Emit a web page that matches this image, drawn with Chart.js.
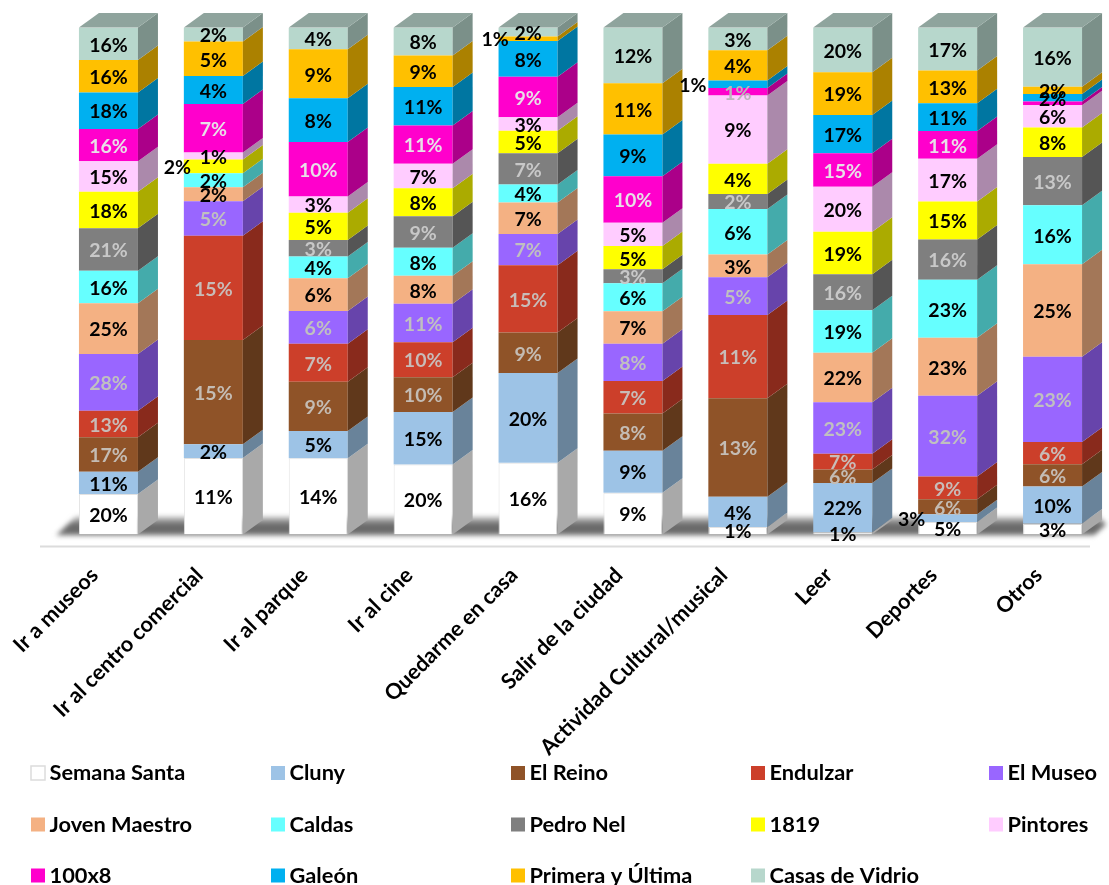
<!DOCTYPE html>
<html>
<head>
<meta charset="utf-8">
<title>Actividades por colegio</title>
<script src="https://cdn.jsdelivr.net/npm/chart.js@4/dist/chart.umd.min.js"></script>
<style>
  html, body { margin: 0; padding: 0; background: #fff; }
  canvas { display: block; }
</style>
</head>
<body>
<canvas id="activitiesChart" width="1109" height="885"></canvas>
<script>
const categories = ["Ir a museos", "Ir al centro comercial", "Ir al parque", "Ir al cine", "Quedarme en casa",
  "Salir de la ciudad", "Actividad Cultural/musical", "Leer", "Deportes", "Otros"];

const seriesNames = ["Semana Santa", "Cluny", "El Reino", "Endulzar", "El Museo", "Joven Maestro", "Caldas",
  "Pedro Nel", "1819", "Pintores", "100x8", "Galeón", "Primera y Última", "Casas de Vidrio"];

const semanaSanta = [20, 11, 14, 20, 16, 9, 1, 1, 5, 3];
const cluny = [11, 2, 5, 15, 20, 9, 4, 22, 3, 10];
const elReino = [17, 15, 9, 10, 9, 8, 13, 6, 6, 6];
const endulzar = [13, 15, 7, 10, 15, 7, 11, 7, 9, 6];
const elMuseo = [28, 5, 6, 11, 7, 8, 5, 23, 32, 23];
const jovenMaestro = [25, 2, 6, 8, 7, 7, 3, 22, 23, 25];
const caldas = [16, 2, 4, 8, 4, 6, 6, 19, 23, 16];
const pedroNel = [21, 0, 3, 9, 7, 3, 2, 16, 16, 13];
const col1819 = [18, 2, 5, 8, 5, 5, 4, 19, 15, 8];
const pintores = [15, 1, 3, 7, 3, 5, 9, 20, 17, 6];
const cien8 = [16, 7, 10, 11, 9, 10, 1, 15, 11, 1];
const galeon = [18, 4, 8, 11, 8, 9, 1, 17, 11, 2];
const primeraUltima = [16, 5, 9, 9, 1, 11, 4, 19, 13, 2];
const casasVidrio = [16, 2, 4, 8, 2, 12, 3, 20, 17, 16];

const allSeries = [semanaSanta, cluny, elReino, endulzar, elMuseo, jovenMaestro, caldas,
  pedroNel, col1819, pintores, cien8, galeon, primeraUltima, casasVidrio];

const colors = ["#ffffff", "#9dc3e6", "#8f5328", "#cc3f2a", "#9966ff", "#f4b183", "#66ffff",
  "#7f7f7f", "#ffff00", "#ffccff", "#ff00cc", "#00b0f0", "#ffc000", "#b7d7cc"];
const labelColors = ["#000", "#000", "#c4bcb4", "#c8bcb8", "#c0c0c0", "#000", "#000",
  "#c8c8c8", "#000", "#000", "#e8e0e8", "#000", "#000", "#000"];

// labels pushed beside the bar, "category,series": dx from the bar centre
const sideLabels = { "1,8": -36, "4,12": -33, "6,11": -45, "8,1": -36 };
// covered by its neighbours in the picture
const hiddenLabels = ["9,10"];
const paleLabel = { key: "6,10", color: "#bdb4bd" };

const FONT = "Lato, Carlito, sans-serif";
const DEPTH_X = 20;
const DEPTH_Y = 14.5;

function shade(hex, factor) {
  const n = parseInt(hex.slice(1), 16);
  const r = Math.round(((n >> 16) & 255) * factor);
  const g = Math.round(((n >> 8) & 255) * factor);
  const b = Math.round((n & 255) * factor);
  return `rgb(${r}, ${g}, ${b})`;
}

function polygon(ctx, points, fill) {
  ctx.beginPath();
  points.forEach(([x, y], i) => (i ? ctx.lineTo(x, y) : ctx.moveTo(x, y)));
  ctx.closePath();
  ctx.fillStyle = fill;
  ctx.fill();
}

// each column is a 100% stack
const columnTotals = categories.map((_, c) => allSeries.reduce((sum, s) => sum + s[c], 0));

const floorPlugin = {
  id: "floor",
  beforeDatasetsDraw(chart) {
    const { ctx, chartArea } = chart;
    const b = chartArea.bottom;
    ctx.save();
    const fade = ctx.createLinearGradient(0, b - 19, 0, b + 3);
    fade.addColorStop(0, "#d8d8d8");
    fade.addColorStop(0.45, "#666666");
    fade.addColorStop(0.8, "#6e6e6e");
    fade.addColorStop(1, "#b4b4b4");
    ctx.filter = "blur(2.5px)";
    polygon(ctx, [[56, b + 1], [76, b - 18], [1100, b - 18], [1106, b - 10], [1094, b + 1]], fade);
    ctx.restore();
    ctx.fillStyle = "#dcdcdc";
    ctx.fillRect(40, b + 11, 1050, 2);
  },
};

const facesPlugin = {
  id: "faces",
  afterDatasetsDraw(chart) {
    const { ctx } = chart;
    allSeries.forEach((values, s) => {
      chart.getDatasetMeta(s).data.forEach((bar, c) => {
        if (!values[c]) return;
        const right = bar.x + bar.width / 2;
        const side = s === 0 ? "#a9a9a9" : shade(colors[s], 0.67);
        polygon(ctx, [[right, bar.y], [right + DEPTH_X, bar.y - DEPTH_Y],
          [right + DEPTH_X, bar.base - DEPTH_Y], [right, bar.base]], side);
        if (s === allSeries.length - 1) {
          const left = bar.x - bar.width / 2;
          polygon(ctx, [[left, bar.y], [left + DEPTH_X, bar.y - DEPTH_Y],
            [right + DEPTH_X, bar.y - DEPTH_Y], [right, bar.y]], "#8fa49d");
        }
      });
    });
  },
};

const valueLabelsPlugin = {
  id: "valueLabels",
  afterDraw(chart) {
    const { ctx } = chart;
    ctx.save();
    ctx.font = `bold 19.5px ${FONT}`;
    ctx.textAlign = "center";
    ctx.textBaseline = "middle";
    allSeries.forEach((values, s) => {
      chart.getDatasetMeta(s).data.forEach((bar, c) => {
        const key = `${c},${s}`;
        if (!values[c] || hiddenLabels.includes(key)) return;
        const dx = sideLabels[key] || 0;
        ctx.fillStyle = dx ? "#000" : key === paleLabel.key ? paleLabel.color : labelColors[s];
        ctx.fillText(`${values[c]}%`, bar.x + dx, (bar.y + bar.base) / 2 + 1.5);
      });
    });
    ctx.restore();
  },
};

const legendColumns = [31, 271, 511, 751, 989];
const legendRows = [773, 824.5, 875.5];

const gridLegendPlugin = {
  id: "gridLegend",
  afterDraw(chart) {
    const { ctx } = chart;
    ctx.save();
    ctx.font = `bold 21.8px ${FONT}`;
    ctx.textBaseline = "middle";
    seriesNames.forEach((name, i) => {
      const x = legendColumns[i % 5];
      const y = legendRows[Math.floor(i / 5)];
      ctx.fillStyle = colors[i];
      ctx.fillRect(x, y - 7, 14, 14);
      if (i === 0) {
        ctx.strokeStyle = "#dcdcdc";
        ctx.lineWidth = 1.5;
        ctx.strokeRect(x, y - 7, 14, 14);
      }
      ctx.fillStyle = "#000";
      ctx.fillText(name, x + 18.5, y);
    });
    ctx.restore();
  },
};

const ctx = document.getElementById("activitiesChart").getContext("2d");
const activitiesChart = new Chart(ctx, {
  type: "bar",
  data: {
    labels: categories,
    datasets: seriesNames.map((name, s) => ({
      label: name,
      data: allSeries[s].map((v, c) => (v / columnTotals[c]) * 100),
      backgroundColor: colors[s],
      borderColor: s === 0 ? "#e2e2e2" : colors[s],
      borderWidth: s === 0 ? 1 : 0,
      barPercentage: 0.5625,
      categoryPercentage: 1,
    })),
  },
  options: {
    responsive: false,
    animation: false,
    layout: { padding: { left: 56, right: 4, top: 27.5, bottom: 0 } },
    scales: {
      x: {
        stacked: true,
        grid: { display: false },
        border: { display: false },
        afterFit: (scale) => { scale.height = 350.5; },
        ticks: {
          autoSkip: false,
          minRotation: 45,
          maxRotation: 45,
          padding: 20,
          labelOffset: -14,
          color: "#000",
          font: { family: FONT, size: 21.6, weight: "bold" },
        },
      },
      y: { stacked: true, display: false, min: 0, max: 100 },
    },
    plugins: {
      legend: { display: false },
      tooltip: { enabled: false },
    },
  },
  plugins: [floorPlugin, facesPlugin, valueLabelsPlugin, gridLegendPlugin],
});
</script>
</body>
</html>
